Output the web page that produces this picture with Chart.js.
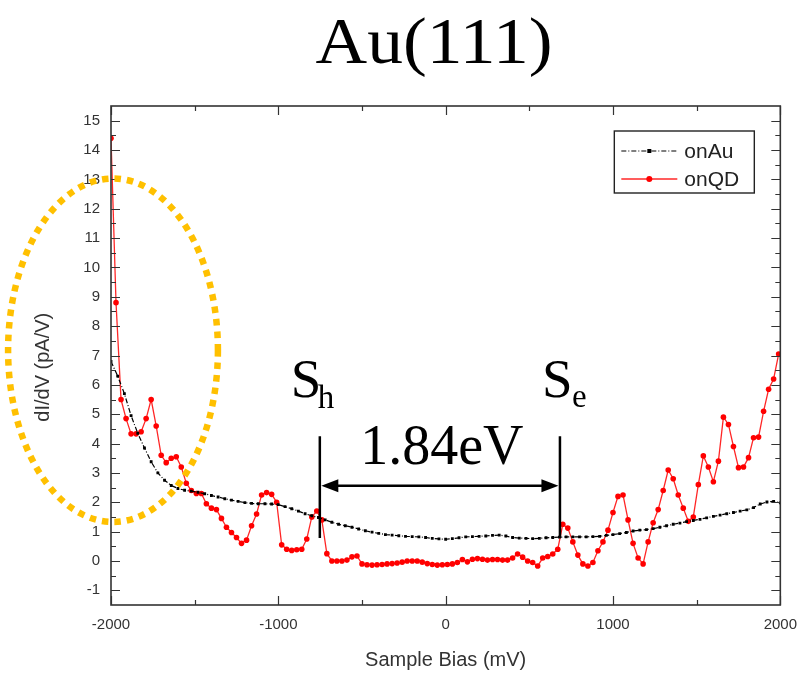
<!DOCTYPE html>
<html>
<head>
<meta charset="utf-8">
<title>Au(111) dI/dV</title>
<script src="https://cdn.jsdelivr.net/npm/chart.js@4/dist/chart.umd.min.js"></script>
<style>
  html, body { margin: 0; padding: 0; background: #fff; }
</style>
</head>
<body>
<canvas id="chart" width="808" height="677"></canvas>
<script>
'use strict';
// Sweep grids (mV): QD spectrum every 30 mV, Au spectrum every 40 mV, both from -2000.
const qdStart = -2000, qdStep = 30;
const auStart = -2000, auStep = 40;

// dI/dV (pA/V) on the quantum dot
const qdDIdV = [
  14.4, 8.8, 5.5, 4.85, 4.33, 4.33, 4.4, 4.85, 5.5, 4.6,
  3.6, 3.35, 3.5, 3.55, 3.2, 2.65, 2.4, 2.3, 2.3, 1.95,
  1.8, 1.75, 1.45, 1.15, 0.97, 0.8, 0.6, 0.71, 1.2, 1.6,
  2.25, 2.33, 2.27, 2.0, 0.55, 0.4, 0.36, 0.38, 0.4, 0.75,
  1.5, 1.7, 1.4, 0.25, 0.0, 0.0, 0.0, 0.03, 0.14, 0.17,
  -0.1, -0.13, -0.14, -0.13, -0.12, -0.1, -0.09, -0.07, -0.04, 0.0,
  0.0, 0.0, -0.04, -0.09, -0.12, -0.14, -0.13, -0.12, -0.1, -0.05,
  0.05, -0.03, 0.06, 0.08, 0.06, 0.03, 0.05, 0.05, 0.03, 0.03,
  0.1, 0.24, 0.13, 0.0, -0.05, -0.17, 0.1, 0.15, 0.24, 0.4,
  1.25, 1.12, 0.65, 0.2, -0.1, -0.17, -0.05, 0.35, 0.65, 1.05,
  1.65, 2.2, 2.25, 1.4, 0.6, 0.1, -0.1, 0.65, 1.3, 1.75,
  2.4, 3.1, 2.8, 2.25, 1.8, 1.35, 1.5, 2.6, 3.58, 3.2,
  2.7, 3.4, 4.9, 4.65, 3.9, 3.18, 3.2, 3.52, 4.2, 4.22,
  5.1, 5.85, 6.2, 7.05
];

// dI/dV (pA/V) on bare Au
const auDIdV = [
  6.8, 6.3, 5.7, 4.95, 4.35, 3.85, 3.38, 3.0, 2.75, 2.57,
  2.47, 2.41, 2.38, 2.34, 2.29, 2.23, 2.18, 2.12, 2.07, 2.03,
  1.99, 1.96, 1.95, 1.95, 1.94, 1.92, 1.85, 1.78, 1.7, 1.61,
  1.54, 1.48, 1.4, 1.32, 1.25, 1.2, 1.15, 1.09, 1.03, 0.98,
  0.94, 0.9, 0.88, 0.86, 0.84, 0.83, 0.82, 0.8, 0.77, 0.75,
  0.74, 0.76, 0.79, 0.82, 0.83, 0.84, 0.85, 0.87, 0.88, 0.85,
  0.8, 0.78, 0.77, 0.76, 0.77, 0.79, 0.8, 0.81, 0.82, 0.82,
  0.82, 0.82, 0.83, 0.84, 0.87, 0.9, 0.93, 0.97, 1.02, 1.05,
  1.07, 1.1, 1.15, 1.2, 1.25, 1.29, 1.34, 1.38, 1.42, 1.47,
  1.52, 1.56, 1.61, 1.65, 1.7, 1.74, 1.82, 1.94, 2.01, 2.03,
  1.98
];

const seriesNames = ['onAu', 'onQD'];
const xTicks = [-2000, -1000, 0, 1000, 2000];
const yTicks = [-1, 0, 1, 2, 3, 4, 5, 6, 7, 8, 9, 10, 11, 12, 13, 14, 15];

// Gap markers: hole edge, electron edge (mV) and the gap label
const holeEdge = -752, elecEdge = 683;
const edgeTop = 4.25, edgeBottom = 0.78, arrowLevel = 2.56;
const gapLabel = '1.84eV';

// Highlight ring around the low-bias rise (centre in mV / pA/V, radii in same units)
const ring = { x: -1988, y: 7.18, rx: 627, ry: 5.85 };

const auPoints = auDIdV.map((v, i) => ({ x: auStart + auStep * i, y: v }));
const qdPoints = qdDIdV.map((v, i) => ({ x: qdStart + qdStep * i, y: v }));

const SANS = '"Liberation Sans", Arial, sans-serif';
const SERIF = '"Liberation Serif", "Times New Roman", serif';

// frame plus inward tick marks on all four sides, with minor ticks halfway
const frameTicks = {
  id: 'frameTicks',
  afterDatasetsDraw(chart) {
    const { ctx, chartArea: a, scales: { x, y } } = chart;
    const marks = (vals, lo, hi) => {
      const out = [];
      const half = (vals[1] - vals[0]) / 2;
      vals.forEach(v => out.push([v, 9]));
      [vals[0] - half, ...vals.map(v => v + half)].forEach(v => {
        if (v > lo && v < hi) out.push([v, 5]);
      });
      return out;
    };
    ctx.save();
    ctx.strokeStyle = '#333';
    ctx.lineWidth = 1.2;
    ctx.beginPath();
    marks(xTicks, x.min, x.max).forEach(([v, len]) => {
      const px = Math.round(x.getPixelForValue(v)) + 0.5;
      ctx.moveTo(px, a.bottom); ctx.lineTo(px, a.bottom - len);
      ctx.moveTo(px, a.top); ctx.lineTo(px, a.top + len);
    });
    marks(yTicks, y.min, y.max).forEach(([v, len]) => {
      const py = Math.round(y.getPixelForValue(v)) + 0.5;
      ctx.moveTo(a.left, py); ctx.lineTo(a.left + len, py);
      ctx.moveTo(a.right, py); ctx.lineTo(a.right - len, py);
    });
    ctx.stroke();
    ctx.lineWidth = 1.6;
    ctx.strokeRect(a.left, a.top, a.right - a.left, a.bottom - a.top);
    ctx.restore();
  }
};

// S_h / S_e edges, the double arrow and the gap label
const gapMarks = {
  id: 'gapMarks',
  afterDatasetsDraw(chart) {
    const { ctx, scales: { x, y } } = chart;
    const xh = x.getPixelForValue(holeEdge);
    const xe = x.getPixelForValue(elecEdge);
    const yt = y.getPixelForValue(edgeTop);
    const yb = y.getPixelForValue(edgeBottom);
    const ya = y.getPixelForValue(arrowLevel);
    ctx.save();
    ctx.strokeStyle = '#000';
    ctx.fillStyle = '#000';
    ctx.lineWidth = 2.5;
    ctx.beginPath();
    ctx.moveTo(xh, yt); ctx.lineTo(xh, yb);
    ctx.moveTo(xe, yt); ctx.lineTo(xe, yb);
    ctx.moveTo(xh + 14, ya); ctx.lineTo(xe - 14, ya);
    ctx.stroke();
    const head = (tip, dir) => {
      ctx.beginPath();
      ctx.moveTo(tip, ya);
      ctx.lineTo(tip + dir * 17, ya - 6.5);
      ctx.lineTo(tip + dir * 17, ya + 6.5);
      ctx.closePath();
      ctx.fill();
    };
    head(xh + 1.5, 1);
    head(xe - 1.5, -1);

    ctx.textBaseline = 'alphabetic';
    ctx.textAlign = 'center';
    ctx.font = '56px ' + SERIF;
    ctx.fillText(gapLabel, (xh + xe) / 2 + 2, ya - 22);

    ctx.textAlign = 'left';
    ctx.font = '55px ' + SERIF;
    ctx.fillText('S', xh - 29, yt - 39);
    ctx.fillText('S', xe - 18, yt - 39);
    ctx.font = '33px ' + SERIF;
    ctx.fillText('h', xh - 2, yt - 28);
    ctx.fillText('e', xe + 12, yt - 29);
    ctx.restore();
  }
};

// legend box, dotted ring, y-axis caption and the plot title
const overlay = {
  id: 'overlay',
  afterDraw(chart) {
    const { ctx, chartArea: a, scales: { x, y } } = chart;
    ctx.save();

    const r = a.right - 26, t = a.top + 25, w = 140, h = 62, l = r - w;
    ctx.fillStyle = '#fff';
    ctx.fillRect(l, t, w, h);
    ctx.strokeStyle = '#222';
    ctx.lineWidth = 1.4;
    ctx.strokeRect(l, t, w, h);
    chart.data.datasets.forEach((ds, i) => {
      const yy = t + 20 + i * 28;
      ctx.save();
      ctx.strokeStyle = ds.borderColor;
      ctx.lineWidth = ds.borderWidth;
      ctx.setLineDash(ds.borderDash || []);
      ctx.beginPath();
      ctx.moveTo(l + 7, yy); ctx.lineTo(l + 63, yy);
      ctx.stroke();
      ctx.restore();
      ctx.fillStyle = ds.pointBackgroundColor;
      if (ds.pointStyle === 'rect') {
        ctx.fillRect(l + 33, yy - 2, 4, 4);
      } else {
        ctx.beginPath();
        ctx.arc(l + 35, yy, 3, 0, Math.PI * 2);
        ctx.fill();
      }
      ctx.fillStyle = '#222';
      ctx.font = '21px ' + SANS;
      ctx.textBaseline = 'middle';
      ctx.textAlign = 'left';
      ctx.fillText(ds.label, l + 70, yy + 1);
    });

    // y caption sits a bit below the middle of the axis
    ctx.save();
    ctx.translate(43, y.getPixelForValue(6.6));
    ctx.rotate(-Math.PI / 2);
    ctx.fillStyle = '#333';
    ctx.font = '20px ' + SANS;
    ctx.textAlign = 'center';
    ctx.textBaseline = 'middle';
    ctx.fillText('dI/dV (pA/V)', 0, 0);
    ctx.restore();

    const cx = x.getPixelForValue(ring.x);
    const cy = y.getPixelForValue(ring.y);
    const rx = x.getPixelForValue(ring.x + ring.rx) - cx;
    const ry = cy - y.getPixelForValue(ring.y + ring.ry);
    ctx.strokeStyle = '#FFC000';
    ctx.lineWidth = 6.5;
    ctx.setLineDash([6.5, 6]);
    ctx.beginPath();
    ctx.ellipse(cx, cy, rx, ry, 0, 0, Math.PI * 2);
    ctx.stroke();
    ctx.setLineDash([]);

    // title, drawn a little wide like the original lettering
    ctx.fillStyle = '#000';
    ctx.font = '65px ' + SERIF;
    ctx.textAlign = 'center';
    ctx.textBaseline = 'alphabetic';
    ctx.translate(434, 63);
    ctx.scale(1.1, 1);
    ctx.fillText('Au(111)', 0, 0);
    ctx.restore();
  }
};

const ctx = document.getElementById('chart').getContext('2d');
new Chart(ctx, {
  type: 'line',
  data: {
    datasets: [
      {
        label: seriesNames[0], data: auPoints,
        borderColor: '#000', borderWidth: 1.2, borderDash: [5, 2, 1, 2],
        pointStyle: 'rect', pointRadius: 2, pointBackgroundColor: '#000', pointBorderWidth: 0
      },
      {
        label: seriesNames[1], data: qdPoints,
        borderColor: 'rgba(255,0,0,0.85)', borderWidth: 1.3,
        pointStyle: 'circle', pointRadius: 2.8, pointBackgroundColor: '#f00', pointBorderWidth: 0
      }
    ]
  },
  options: {
    responsive: false,
    animation: false,
    parsing: false,
    layout: { padding: { top: 106, right: 27, bottom: 0, left: 0 } },
    plugins: { legend: { display: false }, tooltip: { enabled: false }, title: { display: false } },
    elements: { line: { tension: 0 } },
    scales: {
      x: {
        type: 'linear', min: -2000, max: 2000,
        afterFit: (s) => { s.height = 72; },
        afterBuildTicks: (s) => { s.ticks = xTicks.map(value => ({ value })); },
        grid: { display: false, drawTicks: false },
        border: { display: false },
        ticks: { padding: 11, color: '#333', font: { family: SANS, size: 15 },
                 callback: (v) => String(v) },
        title: { display: true, text: 'Sample Bias (mV)', color: '#333',
                 font: { family: SANS, size: 20 }, padding: { top: 0, bottom: 5 } }
      },
      y: {
        type: 'linear', min: -1.5, max: 15.5,
        afterFit: (s) => { s.width = 111; },
        afterBuildTicks: (s) => { s.ticks = yTicks.map(value => ({ value })); },
        grid: { display: false, drawTicks: false },
        border: { display: false },
        ticks: { padding: 11, color: '#333', font: { family: SANS, size: 15 },
                 callback: (v) => String(v) },
        title: { display: false }
      }
    }
  },
  plugins: [frameTicks, gapMarks, overlay]
});
</script>
</body>
</html>
